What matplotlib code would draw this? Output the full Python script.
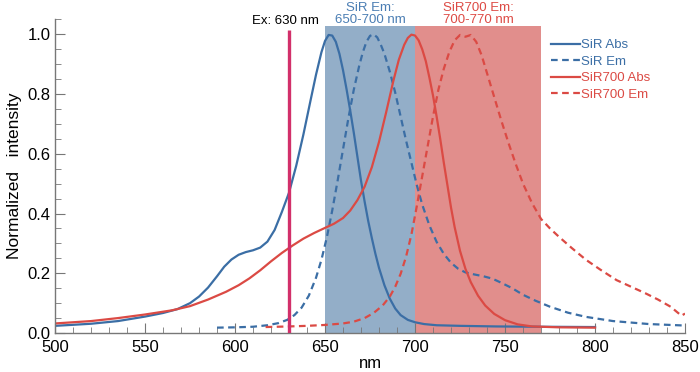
import numpy as np
import matplotlib
matplotlib.use('Agg')
import matplotlib.pyplot as plt
from matplotlib.ticker import MultipleLocator, FormatStrFormatter

plt.rcParams['font.family'] = ['Liberation Sans', 'DejaVu Sans']

# SiR absorption
sir_abs_wl = [500, 520, 535, 550, 560, 568, 575, 580, 585, 590, 594, 598, 602, 606, 610,
              614, 618, 622, 626, 630, 634, 638, 642, 645, 648, 650, 652, 654, 656, 658,
              660, 662, 664, 666, 668, 670, 672, 674, 676, 678, 680, 683, 686, 689, 692,
              696, 700, 705, 712, 725, 745, 770, 800]
sir_abs = [0.024, 0.031, 0.040, 0.055, 0.067, 0.080, 0.100, 0.122, 0.152, 0.190, 0.222,
           0.246, 0.262, 0.271, 0.277, 0.286, 0.306, 0.345, 0.405, 0.470, 0.560, 0.665,
           0.780, 0.865, 0.940, 0.978, 0.998, 0.996, 0.975, 0.935, 0.880, 0.815, 0.745,
           0.670, 0.590, 0.510, 0.440, 0.375, 0.318, 0.265, 0.218, 0.160, 0.115, 0.082,
           0.060, 0.044, 0.036, 0.030, 0.026, 0.024, 0.022, 0.021, 0.020]

# SiR emission
sir_em_wl = [590, 600, 610, 618, 624, 629, 633, 637, 641, 645, 648, 651, 654, 657, 660,
             663, 666, 669, 671, 673, 675, 677, 679, 681, 683, 686, 689, 692, 695, 698,
             701, 704, 708, 712, 716, 720, 724, 728, 733, 738, 743, 748, 754, 760, 767,
             775, 785, 795, 810, 830, 850]
sir_em = [0.018, 0.019, 0.021, 0.026, 0.033, 0.044, 0.060, 0.085, 0.125, 0.185, 0.245,
          0.320, 0.410, 0.510, 0.615, 0.720, 0.815, 0.895, 0.940, 0.975, 0.995, 1.000,
          0.990, 0.965, 0.935, 0.875, 0.805, 0.725, 0.645, 0.570, 0.495, 0.430, 0.360,
          0.305, 0.265, 0.235, 0.215, 0.203, 0.196, 0.190, 0.182, 0.168, 0.150, 0.128,
          0.108, 0.088, 0.068, 0.054, 0.040, 0.030, 0.025]

# SiR700 absorption
sir700_abs_wl = [500, 520, 535, 550, 565, 575, 585, 595, 602, 608, 614, 620, 626, 632,
                 638, 644, 650, 655, 660, 664, 668, 672, 676, 680, 684, 688, 691, 694,
                 696, 698, 700, 702, 704, 706, 708, 710, 712, 714, 716, 718, 720, 722,
                 725, 728, 731, 735, 739, 744, 750, 757, 765, 780, 800]
sir700_abs = [0.032, 0.040, 0.050, 0.062, 0.076, 0.090, 0.112, 0.138, 0.160, 0.183,
              0.210, 0.240, 0.268, 0.293, 0.316, 0.335, 0.352, 0.366, 0.385, 0.410,
              0.445, 0.490, 0.555, 0.640, 0.740, 0.845, 0.915, 0.965, 0.988, 0.999,
              0.996, 0.980, 0.950, 0.910, 0.855, 0.795, 0.725, 0.650, 0.570, 0.495,
              0.420, 0.355, 0.275, 0.215, 0.170, 0.125, 0.092, 0.064, 0.043, 0.029,
              0.022, 0.019, 0.018]

# SiR700 emission
sir700_em_wl = [617, 630, 640, 650, 660, 666, 672, 677, 682, 686, 689, 692, 695, 698,
                701, 704, 707, 710, 713, 716, 719, 722, 725, 728, 731, 734, 737, 740,
                744, 748, 752, 756, 760, 765, 770, 775, 780, 787, 795, 803, 812, 820,
                828, 835, 842, 848, 850]
sir700_em = [0.020, 0.022, 0.024, 0.027, 0.032, 0.038, 0.050, 0.067, 0.092, 0.122,
             0.155, 0.198, 0.255, 0.330, 0.425, 0.525, 0.625, 0.725, 0.815, 0.885,
             0.940, 0.980, 0.998, 0.992, 0.998, 0.975, 0.930, 0.870, 0.790, 0.710,
             0.635, 0.565, 0.500, 0.435, 0.382, 0.350, 0.322, 0.285, 0.245, 0.212,
             0.177, 0.155, 0.133, 0.112, 0.088, 0.058, 0.065]

ex_wl = 630
sir_band = (650, 700)
sir700_band = (700, 770)

blue = '#3b6ea5'
red = '#db4a44'

fig = plt.figure(figsize=(7, 3.72), dpi=100)
ax = fig.add_axes([0.0786, 0.1048, 0.9, 0.843])

# emission windows
ax.axvspan(*sir_band, ymin=0, ymax=1.028 / 1.05, color='#93aec8', lw=0, zorder=0)
ax.axvspan(*sir700_band, ymin=0, ymax=1.028 / 1.05, color='#e18e8c', lw=0, zorder=0)

ax.plot(sir_abs_wl, sir_abs, color=blue, lw=1.6, label='SiR Abs')
ax.plot(sir_em_wl, sir_em, color=blue, lw=1.6, ls=(0, (3, 2)), label='SiR Em')
ax.plot(sir700_abs_wl, sir700_abs, color=red, lw=1.6, label='SiR700 Abs')
ax.plot(sir700_em_wl, sir700_em, color=red, lw=1.6, ls=(0, (3, 2)), label='SiR700 Em')

# excitation line
ax.vlines(ex_wl, 0, 1.015, color='#d2306a', lw=2.4, zorder=3)

ax.text(ex_wl - 2, 1.045, 'Ex: 630 nm', ha='center', va='center', fontsize=9.5)
ax.text(sum(sir_band) / 2, 1.068, 'SiR Em:\n650-700 nm', ha='center', va='center',
        fontsize=9.5, color='#4a7db3', linespacing=0.95)
ax.text(sum(sir700_band) / 2, 1.068, 'SiR700 Em:\n700-770 nm', ha='center', va='center',
        fontsize=9.5, color='#dd4a44', linespacing=0.95)

ax.set_xlim(500, 850)
ax.set_ylim(0, 1.05)
ax.xaxis.set_major_locator(MultipleLocator(50))
ax.xaxis.set_minor_locator(MultipleLocator(10))
ax.yaxis.set_major_locator(MultipleLocator(0.2))
ax.yaxis.set_minor_locator(MultipleLocator(0.05))
ax.yaxis.set_major_formatter(FormatStrFormatter('%.1f'))

for s in ['top', 'right']:
    ax.spines[s].set_visible(False)
for s in ['left', 'bottom']:
    ax.spines[s].set_color('#777777')
    ax.spines[s].set_linewidth(1.0)
ax.tick_params(which='both', direction='in', colors='#777777', labelcolor='black',
               labelsize=12)
ax.tick_params(axis='y', pad=3)
ax.tick_params(axis='x', pad=5)
ax.tick_params(which='major', length=7)
ax.tick_params(which='minor', length=4)

ax.set_xlabel('nm', fontsize=12, labelpad=1)
ax.set_ylabel('Normalized   intensity', fontsize=12.5, labelpad=4)

leg = ax.legend(loc='upper left', bbox_to_anchor=(0.787, 0.937), frameon=False,
                fontsize=9.5, handlelength=2.2, handletextpad=0.1, labelspacing=0.32,
                borderpad=0, borderaxespad=0)
for txt, col in zip(leg.get_texts(), [blue, blue, red, red]):
    txt.set_color(col)

fig.savefig('out.png', dpi=100)
